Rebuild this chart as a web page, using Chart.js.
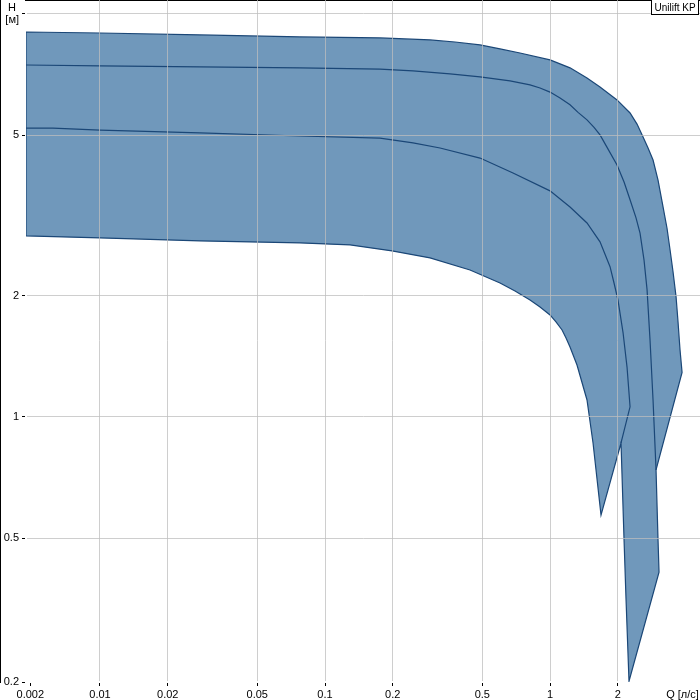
<!DOCTYPE html>
<html>
<head>
<meta charset="utf-8">
<title>Unilift KP</title>
<script src="https://cdn.jsdelivr.net/npm/chart.js@4.4.0/dist/chart.umd.min.js"></script>
<style>
  html, body { margin: 0; padding: 0; background: #fff; }
  canvas { display: block; }
</style>
</head>
<body>
<canvas id="curve" width="700" height="700"></canvas>
<script>
(function () {
  // Q [l/s] / H [m], log-log

  // outline of the whole working range (closed polygon)
  const bandQ = [0.00469, 0.01, 0.0278, 0.0774, 0.1755, 0.2929, 0.3783, 0.4885, 0.5995, 0.7356, 1.0, 1.227, 1.46, 1.668, 1.985, 2.268, 2.436, 2.591, 2.727, 2.87,
    3.02, 3.179, 3.311, 3.415, 3.522, 3.631, 3.706, 3.781, 3.862,
    2.959, 3.02, 3.051, 2.244, 2.177, 2.133, 2.068, 1.685, 1.553, 1.46, 1.318, 1.227, 1.178, 1.131, 1.063, 1.0, 0.9027, 0.8149, 0.699,
    0.5995, 0.441, 0.2929, 0.1985, 0.1292, 0.0774, 0.0278, 0.01, 0.00469, 0.00469];
  const bandH = [9.02, 8.97, 8.87, 8.77, 8.72, 8.62, 8.52, 8.38, 8.19, 8.0, 7.69, 7.35, 6.94, 6.59, 6.12, 5.68, 5.33, 4.95, 4.65, 4.34,
    3.87, 3.32, 2.94, 2.6, 2.29, 1.99, 1.72, 1.47, 1.29,
    0.739, 0.495, 0.412, 0.221, 0.352, 0.495, 0.862, 0.571, 0.862, 1.102, 1.346, 1.492, 1.571, 1.644, 1.721, 1.791, 1.875, 1.951, 2.054,
    2.15, 2.316, 2.481, 2.582, 2.672, 2.703, 2.734, 2.781, 2.813, 9.02];

  // upper inner curve
  const curveAQ = [0.00469, 0.01, 0.0278, 0.0774, 0.1755, 0.2461, 0.3594, 0.4885, 0.664, 0.8149, 0.9027, 1.0, 1.108, 1.227, 1.332, 1.46, 1.569, 1.668,
    1.811, 1.985, 2.133, 2.268, 2.411, 2.512, 2.617, 2.699, 2.783, 2.87, 2.959];
  const curveAH = [7.47, 7.43, 7.39, 7.35, 7.3, 7.22, 7.1, 6.98, 6.82, 6.67, 6.55, 6.4, 6.19, 5.95, 5.7, 5.46, 5.23, 5.01,
    4.62, 4.22, 3.83, 3.46, 3.12, 2.86, 2.45, 2.07, 1.55, 1.1, 0.739];

  // lower inner curve
  const curveBQ = [0.00469, 0.00618, 0.01, 0.0278, 0.0774, 0.1755, 0.2461, 0.3245, 0.4885, 0.6847, 1.0, 1.227, 1.46, 1.668, 1.848,
    1.925, 2.005, 2.111, 2.199, 2.268, 2.068];
  const curveBH = [5.21, 5.21, 5.15, 5.07, 4.98, 4.92, 4.79, 4.65, 4.39, 4.03, 3.64, 3.32, 3.03, 2.72, 2.36,
    2.15, 1.95, 1.62, 1.33, 1.06, 0.862];

  const xTickValues = [0.0049, 0.01, 0.02, 0.05, 0.1, 0.2, 0.5, 1, 2, 3.88];
  const xTickLabels = ['0.002', '0.01', '0.02', '0.05', '0.1', '0.2', '0.5', '1', '2', 'Q [л/с]'];
  const yTickValues = [0.22, 0.5, 1, 2, 5, 10];
  const yTickLabels = ['0.2', '0.5', '1', '2', '5', ['H ', '[м]']];
  const boxText = 'Unilift KP';

  const bandFill = '#7098bb';
  const lineColor = '#1b4777';
  const gridColor = 'rgba(190,190,190,0.75)';
  const clear = 'rgba(0,0,0,0)';

  function pts(q, h) {
    return q.map((v, i) => ({ x: v, y: h[i] }));
  }

  const labelBox = {
    id: 'labelBox',
    afterDraw(chart) {
      const ctx = chart.ctx;
      ctx.save();
      ctx.fillStyle = '#fff';
      ctx.fillRect(651, 0, 48, 15);
      ctx.strokeStyle = '#000';
      ctx.lineWidth = 1;
      ctx.strokeRect(651.5, -0.5, 47, 15);
      ctx.font = '10px "Liberation Sans", Arial, sans-serif';
      ctx.fillStyle = '#000';
      ctx.textBaseline = 'middle';
      ctx.textAlign = 'center';
      ctx.fillText(boxText, 675, 8);
      ctx.restore();
    }
  };

  Chart.defaults.font.family = '"Liberation Sans", Arial, sans-serif';
  Chart.defaults.font.size = 11;
  Chart.defaults.color = '#000';

  const lastX = xTickValues.length - 1;

  new Chart(document.getElementById('curve').getContext('2d'), {
    type: 'scatter',
    data: {
      datasets: [
        {
          data: pts(curveAQ, curveAH),
          showLine: true, fill: false, borderColor: lineColor, borderWidth: 1.2,
          pointRadius: 0, tension: 0, order: 1
        },
        {
          data: pts(curveBQ, curveBH),
          showLine: true, fill: false, borderColor: lineColor, borderWidth: 1.2,
          pointRadius: 0, tension: 0, order: 1
        },
        {
          data: pts(bandQ, bandH),
          showLine: true, fill: 'shape', backgroundColor: bandFill, borderColor: lineColor, borderWidth: 1.2,
          pointRadius: 0, tension: 0, order: 2
        }
      ]
    },
    options: {
      responsive: false,
      animation: false,
      layout: { padding: 0 },
      plugins: { legend: { display: false }, tooltip: { enabled: false } },
      scales: {
        x: {
          type: 'logarithmic',
          min: 0.00469,
          max: 4.64,
          afterBuildTicks: s => { s.ticks = xTickValues.map(v => ({ value: v })); },
          afterFit: s => { s.height = 18; s.paddingLeft = 0; s.paddingRight = 0; },
          ticks: {
            autoSkip: false, maxRotation: 0, padding: 2,
            callback: (v, i) => xTickLabels[i]
          },
          grid: {
            z: 1,
            color: c => (c.index === 0 || c.index === lastX) ? clear : gridColor,
            tickColor: c => c.index === lastX ? clear : '#000',
            tickLength: 4
          },
          border: { display: true, color: '#000', width: 2 }
        },
        y: {
          type: 'logarithmic',
          min: 0.22,
          max: 10.83,
          afterBuildTicks: s => { s.ticks = yTickValues.map(v => ({ value: v })); },
          afterFit: s => { s.width = 26; s.paddingTop = 0; s.paddingBottom = 0; },
          ticks: {
            autoSkip: false, padding: 3,
            font: { lineHeight: 1.05 },
            callback: (v, i) => yTickLabels[i]
          },
          grid: {
            z: 1,
            color: c => c.index === 0 ? clear : gridColor,
            tickColor: '#000',
            tickLength: 4
          },
          border: { display: true, color: '#000', width: 2 }
        }
      }
    },
    plugins: [labelBox]
  });
})();
</script>
</body>
</html>
